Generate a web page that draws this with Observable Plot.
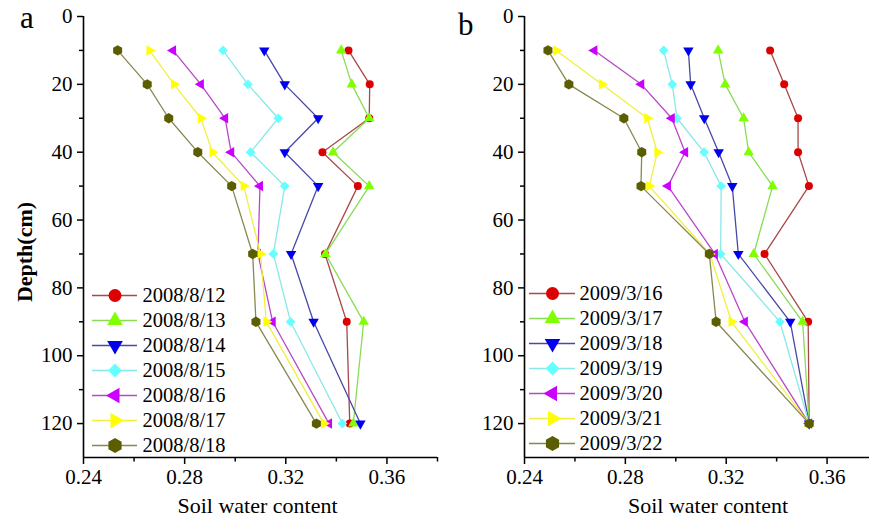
<!DOCTYPE html>
<html><head><meta charset="utf-8">
<script src="https://cdn.jsdelivr.net/npm/d3@7"></script>
<script src="https://cdn.jsdelivr.net/npm/@observablehq/plot@0.6"></script>
<style>
html,body{margin:0;padding:0;background:#fff;overflow:hidden}
#fig{position:relative;width:869px;height:519px;overflow:hidden;background:#fff;font-family:"Liberation Serif","Times New Roman",serif}
#fig > *{position:absolute}
#fig svg, #fig svg text{font-family:"Liberation Serif","Times New Roman",serif !important}
</style></head><body><div id="fig"></div>
<script>
// ---------- data ----------
const depths = [10, 20, 30, 40, 50, 70, 90, 120];

const datesA = ["2008/8/12", "2008/8/13", "2008/8/14", "2008/8/15", "2008/8/16", "2008/8/17", "2008/8/18"];
const swcA_0812 = [0.3448, 0.3532, 0.3530, 0.3345, 0.3485, 0.3355, 0.3441, 0.3453];
const swcA_0813 = [0.3419, 0.3461, 0.3530, 0.3387, 0.3530, 0.3357, 0.3508, 0.3467];
const swcA_0814 = [0.3115, 0.3196, 0.3328, 0.3196, 0.3328, 0.3221, 0.3310, 0.3495];
const swcA_0815 = [0.2952, 0.3050, 0.3170, 0.3061, 0.3196, 0.3151, 0.3219, 0.3424];
const swcA_0816 = [0.2754, 0.2864, 0.2960, 0.2984, 0.3098, 0.3090, 0.3148, 0.3371];
const swcA_0817 = [0.2661, 0.2758, 0.2864, 0.2910, 0.3034, 0.3100, 0.3123, 0.3351];
const swcA_0818 = [0.2535, 0.2652, 0.2737, 0.2852, 0.2986, 0.3069, 0.3082, 0.3321];

const datesB = ["2009/3/16", "2009/3/17", "2009/3/18", "2009/3/19", "2009/3/20", "2009/3/21", "2009/3/22"];
const swcB_0316 = [0.3374, 0.3430, 0.3485, 0.3485, 0.3528, 0.3352, 0.3525, 0.3529];
const swcB_0317 = [0.3168, 0.3196, 0.3269, 0.3289, 0.3384, 0.3309, 0.3503, 0.3529];
const swcB_0318 = [0.3050, 0.3059, 0.3113, 0.3170, 0.3224, 0.3248, 0.3454, 0.3529];
const swcB_0319 = [0.2952, 0.2986, 0.3005, 0.3112, 0.3180, 0.3178, 0.3413, 0.3529];
const swcB_0320 = [0.2677, 0.2863, 0.2984, 0.3037, 0.2969, 0.3155, 0.3274, 0.3529];
const swcB_0321 = [0.2526, 0.2707, 0.2887, 0.2927, 0.2895, 0.3135, 0.3221, 0.3529];
const swcB_0322 = [0.2493, 0.2576, 0.2794, 0.2865, 0.2862, 0.3133, 0.3160, 0.3529];

const xDomain = [0.24, 0.38];
const yDomain = [0, 130];
const xTicksMajor = [0.24, 0.28, 0.32, 0.36];
const xTicksMinor = [0.26, 0.30, 0.34, 0.38];
const yTicksMajor = [0, 20, 40, 60, 80, 100, 120];
const yTicksMinor = [10, 30, 50, 70, 90, 110];

// ---------- styles ----------
const FONT = "Liberation Serif";
const markerColors = ["#dd0000", "#80ff00", "#0000ee", "#66ffff", "#cc00ff", "#ffff00", "#5b5e00"];
const lineColors   = ["#a84848", "#88dd55", "#4848a8", "#88e8e8", "#b848c8", "#f0f040", "#888850"];

function tri(deg) {
  const a = deg * Math.PI / 180;
  return {
    draw(ctx, size) {
      const R = 2 * Math.sqrt(size / (3 * Math.sqrt(3)));
      for (let k = 0; k < 3; k++) {
        const t = a + k * 2 * Math.PI / 3;
        const x = R * Math.sin(t), y = -R * Math.cos(t);
        if (k) ctx.lineTo(x, y); else ctx.moveTo(x, y);
      }
      ctx.closePath();
    }
  };
}
const symbolList = ["circle", tri(0), tri(180), "diamond2", tri(-90), tri(90), "hexagon"];
const dataR   = [4, 3.9, 3.9, 4.4, 3.9, 3.9, 4.5];
const legendR = [6.5, 5.8, 5.8, 6.3, 5.8, 5.8, 6.6];

const fig = document.getElementById("fig");

function panel(dates, series, left, marginLeft) {
  const data = dates.flatMap((date, i) => depths.map((d, j) => ({date, i, depth: d, swc: series[i][j]})));
  const marks = [
    Plot.axisX({ticks: xTicksMajor, tickSize: 7, tickPadding: 5, tickFormat: d3.format(".2f"),
      fontSize: 21, fontFamily: FONT, fill: "black", strokeWidth: 1.5, label: null}),
    Plot.axisX({ticks: xTicksMinor, tickSize: 4.5, tickFormat: () => "", strokeWidth: 1.5, label: null}),
    Plot.axisY({ticks: yTicksMajor, tickSize: 6, tickPadding: 5, tickFormat: d3.format("d"),
      fontSize: 21, fontFamily: FONT, fill: "black", strokeWidth: 1.5, label: null}),
    Plot.axisY({ticks: yTicksMinor, tickSize: 4, tickFormat: () => "", strokeWidth: 1.5, label: null}),
    Plot.ruleX([xDomain[0]], {stroke: "black", strokeWidth: 1.6}),
    Plot.ruleY([yDomain[1]], {stroke: "black", strokeWidth: 1.6})
  ];
  dates.forEach((date, i) => {
    const rows = data.filter(r => r.i === i);
    marks.push(Plot.line(rows, {x: "swc", y: "depth", stroke: lineColors[i], strokeWidth: 1.3}));
    marks.push(Plot.dot(rows, {x: "swc", y: "depth", symbol: symbolList[i], r: dataR[i], fill: markerColors[i], stroke: "none"}));
  });
  const p = Plot.plot({
    width: 440, height: 519,
    marginLeft, marginRight: 3, marginTop: 16, marginBottom: 62,
    x: {domain: xDomain},
    y: {domain: yDomain, reverse: true},
    style: {background: "transparent", fontFamily: FONT, overflow: "visible"},
    marks
  });
  p.style.left = left + "px";
  p.style.top = "0px";
  fig.appendChild(p);
}

function legend(dates, left, top, lineLen, gap) {
  const rowH = 25.4;
  const w = 160;
  const marks = [];
  dates.forEach((date, i) => {
    marks.push(Plot.ruleY([date], {x1: 0, x2: 1, stroke: lineColors[i], strokeWidth: 1.3}));
    marks.push(Plot.dot([date], {x: 0.5, y: d => d, symbol: symbolList[i], r: legendR[i], fill: markerColors[i], stroke: "none"}));
    marks.push(Plot.text([date], {x: 1, y: d => d, text: d => d, dx: gap, textAnchor: "start",
      fontSize: 20.5, fontFamily: FONT, fill: "black"}));
  });
  const p = Plot.plot({
    width: w, height: rowH * dates.length,
    marginLeft: 0, marginRight: w - lineLen, marginTop: 0, marginBottom: 0,
    x: {domain: [0, 1], axis: null},
    y: {type: "point", domain: dates, padding: 0.5, axis: null},
    style: {background: "transparent", fontFamily: FONT, overflow: "visible"},
    marks
  });
  p.style.left = left + "px";
  p.style.top = top + "px";
  fig.appendChild(p);
}

panel(datesA, [swcA_0812, swcA_0813, swcA_0814, swcA_0815, swcA_0816, swcA_0817, swcA_0818], 0, 83);
panel(datesB, [swcB_0316, swcB_0317, swcB_0318, swcB_0319, swcB_0320, swcB_0321, swcB_0322], 440, 84);
legend(datesA, 92, 280.6, 45, 5);
legend(datesB, 529, 279, 46, 4);

// ---------- text labels ----------
const svg = d3.create("svg").attr("width", 869).attr("height", 519)
  .style("left", "0px").style("top", "0px").style("pointer-events", "none")
  .attr("font-family", FONT).attr("fill", "black");
svg.append("text").attr("x", 20).attr("y", 28).attr("font-size", 31).text("a");
svg.append("text").attr("x", 458).attr("y", 35).attr("font-size", 31).text("b");
svg.append("text").attr("transform", "translate(24,252) rotate(-90)").attr("text-anchor", "middle")
  .attr("dy", "0.35em").attr("font-size", 22).attr("font-weight", "bold").text("Depth(cm)");
svg.append("text").attr("x", 257.5).attr("y", 513).attr("text-anchor", "middle").attr("font-size", 22).text("Soil water content");
svg.append("text").attr("x", 708).attr("y", 513).attr("text-anchor", "middle").attr("font-size", 22).text("Soil water content");
fig.appendChild(svg.node());
</script></body></html>
